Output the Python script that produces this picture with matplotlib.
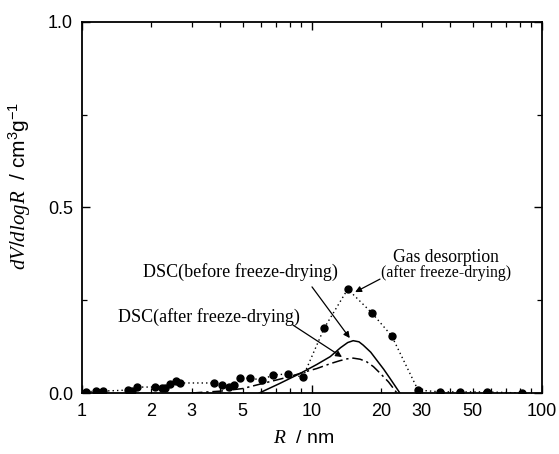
import matplotlib
matplotlib.use("Agg")
import matplotlib.pyplot as plt
from matplotlib.ticker import FixedLocator, NullFormatter, FixedFormatter

plt.rcParams['font.family'] = ['Liberation Sans', 'DejaVu Sans']
plt.rcParams['mathtext.fontset'] = 'custom'
plt.rcParams['mathtext.rm'] = 'Liberation Sans'
plt.rcParams['mathtext.it'] = 'Liberation Serif:italic'

# Gas desorption (after freeze-drying) points
gas_R = [1.04, 1.15, 1.23, 1.58, 1.65, 1.73, 2.08, 2.23, 2.29, 2.41, 2.56, 2.67,
         3.75, 4.06, 4.36, 4.58, 4.86, 5.37, 6.06, 6.77, 7.86, 9.13, 11.3, 14.3,
         18.2, 22.2, 28.9, 36.0, 44.0, 57.5, 81.5]
gas_V = [0.003, 0.005, 0.005, 0.008, 0.005, 0.016, 0.016, 0.013, 0.013, 0.024, 0.032, 0.027,
         0.027, 0.022, 0.016, 0.022, 0.040, 0.040, 0.035, 0.049, 0.051, 0.043, 0.175, 0.280,
         0.216, 0.154, 0.008, 0.003, 0.003, 0.003, 0.0]

# DSC before freeze-drying (solid)
dsc_before_R = [5.9, 7.2, 8.9, 10.5, 12.0, 13.3, 14.3, 15.1, 16.0, 16.7, 18.0, 19.1, 20.5, 21.8, 24.1]
dsc_before_V = [0.0, 0.025, 0.053, 0.077, 0.098, 0.122, 0.136, 0.141, 0.138, 0.129, 0.110, 0.089, 0.064, 0.040, 0.0]

# DSC after freeze-drying (dash-dot)
dsc_after_R = [3.0, 4.0, 5.0, 6.5, 8.0, 9.2, 10.5, 12.0, 13.2, 14.2, 15.1, 16.2, 17.3, 18.5, 19.8, 21.5, 23.4]
dsc_after_V = [0.0, 0.005, 0.012, 0.030, 0.044, 0.056, 0.066, 0.079, 0.087, 0.092, 0.094, 0.091, 0.084, 0.071, 0.053, 0.030, 0.0]

x_ticks = [1, 2, 3, 5, 10, 20, 30, 50, 100]
x_ticklabels = ['1', '2', '3', '5', '10', '20', '30', '50', '100']
y_ticks = [0.0, 0.5, 1.0]
y_ticklabels = ['0.0', '0.5', '1.0']

fig = plt.figure(figsize=(5.59, 4.54), dpi=100)
ax = fig.add_axes([82/559, 61/454, 460/559, 371/454])

ax.plot(gas_R, gas_V, linestyle=(0, (1, 2.2)), color='black', lw=1.0,
        marker='o', markersize=5, markerfacecolor='black', markeredgecolor='black')
ax.plot(dsc_before_R, dsc_before_V, '-', color='black', lw=1.1)
ax.plot(dsc_after_R, dsc_after_V, linestyle=(0, (7, 2.5, 1.5, 2.5)), color='black', lw=1.1)

ax.set_xscale('log')
ax.set_xlim(1, 100)
ax.set_ylim(0, 1.0)

ax.xaxis.set_major_locator(FixedLocator([1, 10, 100]))
ax.xaxis.set_minor_locator(FixedLocator([2, 3, 4, 5, 6, 7, 8, 9, 20, 30, 40, 50, 60, 70, 80, 90]))
ax.xaxis.set_major_formatter(NullFormatter())
ax.xaxis.set_minor_formatter(NullFormatter())
for xv, lab in zip(x_ticks, x_ticklabels):
    ax.text(xv, -0.027, lab, transform=ax.get_xaxis_transform(), ha='center', va='top',
            fontsize=13)

ax.yaxis.set_major_locator(FixedLocator(y_ticks))
ax.yaxis.set_major_formatter(FixedFormatter(y_ticklabels))
ax.yaxis.set_minor_locator(FixedLocator([0.25, 0.75]))

ax.tick_params(which='both', direction='in', top=True, right=True, labelsize=13)
ax.tick_params(which='major', length=6, width=1.0, pad=6.5)
ax.tick_params(which='minor', length=3.5, width=0.9)
for s in ax.spines.values():
    s.set_linewidth(1.3)

ax.set_ylabel(r'$\mathit{dV/dlogR}$  / cm$^{3}$g$^{-1}$', fontsize=15)
ax.yaxis.set_label_coords(-0.107, 0.558)
ax.set_xlabel(r'$\mathit{R}$  / nm', fontsize=14)
ax.xaxis.set_label_coords(0.483, -0.10)

serif = ['Liberation Serif', 'DejaVu Serif']
ap = dict(arrowstyle='-|>', lw=0.9, color='black', mutation_scale=9, shrinkA=0, shrinkB=0)

ax.text(4.87, 0.326, 'DSC(before freeze-drying)', family=serif, fontsize=13, ha='center', va='center')
ax.annotate('', xy=(14.6, 0.148), xytext=(10.0, 0.286), arrowprops=ap)

ax.text(3.58, 0.205, 'DSC(after freeze-drying)', family=serif, fontsize=13, ha='center', va='center')
ax.annotate('', xy=(13.5, 0.097), xytext=(8.27, 0.183), arrowprops=ap)

ax.text(38.2, 0.364, 'Gas desorption', family=serif, fontsize=12.7, ha='center', va='center')
ax.text(38.2, 0.323, '(after freeze-drying)', family=serif, fontsize=11.4, ha='center', va='center')
ax.annotate('', xy=(15.4, 0.272), xytext=(19.75, 0.307), arrowprops=ap)

fig.savefig('out.png', dpi=100)
